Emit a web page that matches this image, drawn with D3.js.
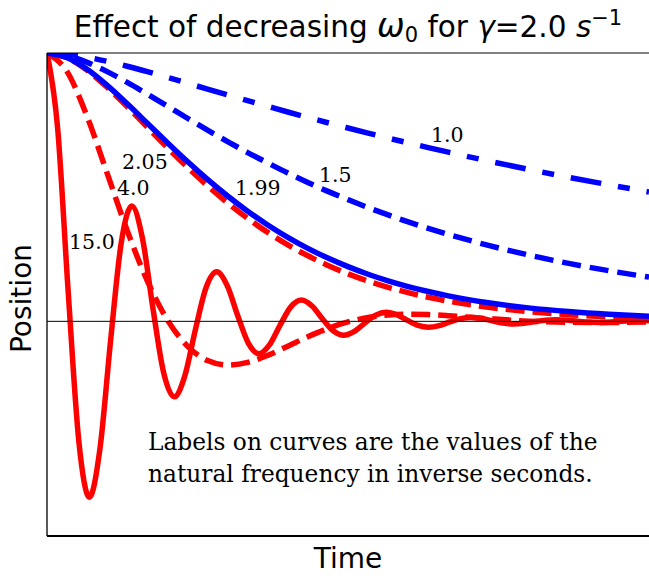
<!DOCTYPE html>
<html><head><meta charset="utf-8">
<script src="https://cdn.jsdelivr.net/npm/d3@7/dist/d3.min.js"></script>
<style>body{margin:0;background:#fff}svg{display:block}</style>
</head><body>
<svg id="c" width="649" height="576"></svg>
<script>
// ---- data ----
const omegaLabels = ["15.0", "4.0", "2.05", "1.99", "1.5", "1.0"];

const t15 = [0,.0528,.1057,.1585,.2113,.2642,.3170,.3698,.4227,.4755,.5283,.5812,.6340,.6868,.7396,.7925,.8453,.8981,.9510,1.0038,1.0566,1.1095,1.1623,1.2151,1.2680,1.3208,1.3736,1.4265,1.4793,1.5321,1.5850,1.6378,1.6906,1.7435,1.7963,1.8491,1.9020,1.9548,2.0076,2.0604,2.1133,2.1661,2.2189,2.2718,2.3246,2.3774,2.4303,2.4831,2.5359,2.5888,2.6416,2.6944,2.7473,2.8001,2.8529,2.9058,2.9586,3.0];
const x15 = [1,.7218,.1089,-.4457,-.6553,-.4730,-.0714,.2921,.4294,.3099,.0468,-.1914,-.2814,-.2031,-.0306,.1254,.1844,.1331,.0201,-.0822,-.1208,-.0872,-.0132,.0539,.0792,.0572,.0086,-.0353,-.0519,-.0375,-.0057,.0231,.0340,.0245,.0037,-.0152,-.0223,-.0161,-.0024,.0099,.0146,.0105,.0016,-.0065,-.0096,-.0069,-.0010,.0043,.0063,.0045,.0007,-.0028,-.0041,-.0030,-.0004,.0018,.0027,.0022];

const tStd = [0,.1,.2,.3,.4,.5,.6,.7,.8,.9,1.0,1.1,1.2,1.3,1.4,1.5,1.6,1.7,1.8,1.9,2.0,2.2,2.4,2.6,2.8,3.0];
const x4   = [1,.9306,.7630,.5512,.3378,.1506,.0054,-.0923,-.1463,-.1629,-.1531,-.1268,-.0925,-.0574,-.0265,-.0023,.0142,.0236,.0265,.0252,.0211,.0099,.0006,-.0037,-.0041,-.0026];
const x205 = [1,.9816,.9354,.8721,.7996,.7234,.6473,.5740,.5051,.4414,.3835,.3314,.2851,.2442,.2084,.1771,.1501,.1268,.1068,.0897,.0752,.0524,.0361,.0247,.0168,.0113];
const x199 = [1,.9827,.9391,.8793,.8106,.7382,.6657,.5954,.5289,.4671,.4105,.3592,.3132,.2721,.2357,.2037,.1755,.1510,.1296,.1111,.0950,.0693,.0502,.0363,.0261,.0187];
const x15b = [1,.9901,.9652,.9306,.8902,.8466,.8018,.7568,.7127,.6700,.6289,.5902,.5525,.5176,.4843,.4535,.4238,.3965,.3706,.3463,.3239,.2830,.2472,.2159,.1886,.1647];
const x10  = [1,.9956,.9845,.9689,.9505,.9303,.9091,.8874,.8656,.8440,.8223,.8012,.7802,.7598,.7400,.7205,.7015,.6830,.6650,.6475,.6304,.5975,.5663,.5368,.5088,.4822];

// label anchors (data units) for each curve label
const labelT = [.110, .349, .374, .937, 1.355, 1.914];
const labelV = [.269, .471, .568, .471, .519, .668];

const noteLines = ["Labels on curves are the values of the", "natural frequency in inverse seconds."];

// ---- layout ----
const W = 649, H = 576;
const L = 47, R = 649, T = 53, B = 536;
const x = d3.scaleLinear().domain([0, 3]).range([L, R]);
const y = d3.scaleLinear().domain([-0.8, 1.0]).range([B, T]);

const svg = d3.select("#c");
svg.append("defs").append("clipPath").attr("id","clip")
  .append("rect").attr("x",L).attr("y",T).attr("width",R-L).attr("height",B-T);

const series = [
  {t: t15,  v: x15,  color: "#ff0000", dash: null},
  {t: tStd, v: x4,   color: "#ff0000", dash: "19,8"},
  {t: tStd, v: x205, color: "#ff0000", dash: "19,8"},
  {t: tStd, v: x199, color: "#0000ff", dash: null},
  {t: tStd, v: x15b, color: "#0000ff", dash: "19,9"},
  {t: tStd, v: x10,  color: "#0000ff", dash: "31,17,12,17"}
];

const line = d3.line().x(d => x(d[0])).y(d => y(d[1])).curve(d3.curveMonotoneX);
const g = svg.append("g").attr("clip-path","url(#clip)");
series.forEach(s => {
  g.append("path")
    .datum(s.t.map((tt,i) => [tt, s.v[i]]))
    .attr("d", line)
    .attr("fill","none")
    .attr("stroke", s.color)
    .attr("stroke-width", 5.5)
    .attr("stroke-dasharray", s.dash)
    .attr("stroke-linejoin","round");
});

// zero line
svg.append("line").attr("x1",L).attr("x2",R).attr("y1",y(0)).attr("y2",y(0))
  .attr("stroke","#000").attr("stroke-width",1);

// spines
svg.append("line").attr("x1",L).attr("x2",R).attr("y1",T).attr("y2",T).attr("stroke","#000").attr("stroke-width",1);
svg.append("line").attr("x1",L).attr("x2",L).attr("y1",T).attr("y2",B).attr("stroke","#000").attr("stroke-width",1.3);
svg.append("line").attr("x1",L).attr("x2",R).attr("y1",B).attr("y2",B).attr("stroke","#000").attr("stroke-width",2);

// curve labels
omegaLabels.forEach((lab,i) => {
  svg.append("text").attr("x", x(labelT[i])).attr("y", y(labelV[i]))
    .attr("font-family","DejaVu Serif").attr("font-size",20.5).attr("fill","#000").text(lab);
});

// note
noteLines.forEach((s,i) => {
  svg.append("text").attr("x",148).attr("y",450 + i*32)
    .attr("font-family","DejaVu Serif").attr("font-size",23.3).attr("fill","#000").text(s);
});

// title
const title = svg.append("text").attr("x",(L+R)/2).attr("y",37).attr("text-anchor","middle")
  .attr("font-family","DejaVu Sans").attr("font-size",29.5).attr("fill","#000");
title.append("tspan").text("Effect of decreasing ");
title.append("tspan").attr("font-style","italic").attr("font-size",33).text("ω");
title.append("tspan").attr("font-size",21).attr("dy",5).text("0");
title.append("tspan").attr("dy",-5).text(" for ");
title.append("tspan").attr("font-style","italic").text("γ");
title.append("tspan").text("=2.0 ");
title.append("tspan").attr("font-style","italic").text("s");
title.append("tspan").attr("font-size",21).attr("dy",-12).text("−1");

// axis labels
svg.append("text").attr("x",(L+R)/2).attr("y",568).attr("text-anchor","middle")
  .attr("font-family","DejaVu Sans").attr("font-size",28).text("Time");
svg.append("text").attr("transform",`translate(31,${(T+B)/2+4}) rotate(-90)`).attr("text-anchor","middle")
  .attr("font-family","DejaVu Sans").attr("font-size",28).text("Position");
</script>
</body></html>
